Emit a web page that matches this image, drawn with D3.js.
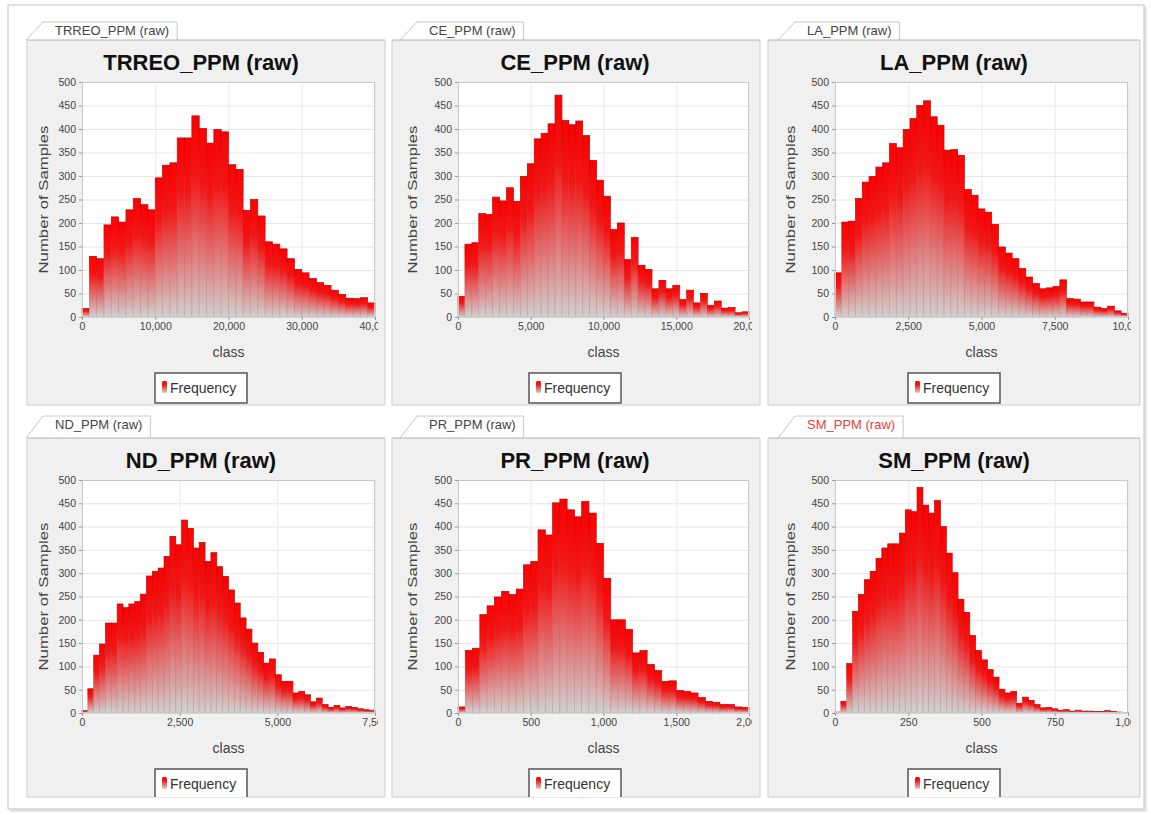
<!DOCTYPE html>
<html><head><meta charset="utf-8">
<script src="https://cdn.jsdelivr.net/npm/d3@7"></script>
<style>body{margin:0;background:#fff}svg{display:block}text{font-family:"Liberation Sans",Arial,sans-serif}</style>
</head><body><svg id="c" width="1151" height="815"></svg>
<script>
// ---------- data ----------
const names = ["TRREO_PPM (raw)", "CE_PPM (raw)", "LA_PPM (raw)", "ND_PPM (raw)", "PR_PPM (raw)", "SM_PPM (raw)"];
const xMax = [40000, 20000, 10000, 7500, 2000, 1000];
const xTicks = [
  [0, 10000, 20000, 30000, 40000],
  [0, 5000, 10000, 15000, 20000],
  [0, 2500, 5000, 7500, 10000],
  [0, 2500, 5000, 7500],
  [0, 500, 1000, 1500, 2000],
  [0, 250, 500, 750, 1000]
];
const yTicks = [0, 50, 100, 150, 200, 250, 300, 350, 400, 450, 500];
const trreo = [18,129,124,196,213,202,228,252,239,228,296,323,328,381,381,428,401,370,399,394,324,314,227,250,215,160,155,145,124,101,94,82,73,67,57,48,40,39,41,30];
const ce = [44,155,158,220,218,255,247,275,246,299,326,379,391,411,472,418,409,417,386,333,291,257,186,200,122,169,110,101,60,78,60,67,37,57,30,50,25,34,19,20,9,11];
const la = [94,202,204,252,287,299,319,328,369,360,399,422,450,460,426,408,355,356,344,271,259,230,223,197,149,136,124,103,85,71,60,62,65,79,39,38,32,32,21,18,23,13,8];
const nd = [5,52,124,148,193,193,234,226,234,239,255,294,304,311,336,379,361,414,396,354,366,325,344,314,293,264,236,204,180,150,130,107,116,82,68,68,43,46,39,24,32,18,12,16,11,14,12,9,7,6];
const pr = [13,134,139,211,230,249,261,254,266,318,325,393,382,451,459,436,421,454,429,364,289,200,200,179,129,134,104,91,68,69,48,46,43,33,25,23,18,18,13,12];
const sm = [2,25,106,218,254,286,304,332,354,363,363,386,436,432,484,446,429,456,400,343,301,244,216,166,134,114,93,77,51,43,46,21,34,27,18,11,12,9,6,7,4,6,4,4,3,3,5,3,2,1];
const series = [trreo, ce, la, nd, pr, sm];
const legendLabel = "Frequency";
const xLabel = "class";
const yLabel = "Number of Samples";

// ---------- layout ----------
const colL = [27, 392, 768], colR = [385, 760, 1140];
const plotX = [[82, 375], [458, 749], [835, 1128]];
const rowT = [40, 438], rowB = [405, 797];
const plotY = [[82, 317], [480, 713]];
const tabTop = [22, 416];
const tabX = [26, 400, 778];
const centers = [201, 575, 954];
const ylabX = [43, 412, 790];

const svg = d3.select("#c");
const defs = svg.append("defs");
const g1 = defs.append("linearGradient").attr("id", "barG").attr("x1", 0).attr("y1", 0).attr("x2", 0).attr("y2", 1);
g1.append("stop").attr("offset", 0).attr("stop-color", "#ff0000");
g1.append("stop").attr("offset", 0.3).attr("stop-color", "#f71414");
g1.append("stop").attr("offset", 1).attr("stop-color", "#d2d0d0");
const g2 = defs.append("linearGradient").attr("id", "barS").attr("x1", 0).attr("y1", 0).attr("x2", 0).attr("y2", 1);
g2.append("stop").attr("offset", 0).attr("stop-color", "#b80000");
g2.append("stop").attr("offset", 1).attr("stop-color", "#b8b0b0");

// outer frame
svg.append("rect").attr("x", 10).attr("y", 7).attr("width", 1137).attr("height", 805).attr("fill", "#e4e4e4");
svg.append("rect").attr("x", 8).attr("y", 5).attr("width", 1136).attr("height", 804).attr("fill", "#fff").attr("stroke", "#c4c4c4");

series.forEach((data, k) => {
  const r = Math.floor(k / 3), c = k % 3;
  const L = colL[c], R = colR[c], T = rowT[r], B = rowB[r];
  const [px0, px1] = plotX[c], [py0, py1] = plotY[r];

  // tab
  const tg = svg.append("g");
  const lbl = tg.append("text").attr("x", tabX[c] + 29).attr("y", tabTop[r] + 13)
    .attr("font-size", 13).attr("fill", k === 5 ? "#e8403c" : "#444").text(names[k]);
  const tw = lbl.node().getComputedTextLength();
  tg.insert("path", "text")
    .attr("d", `M${tabX[c]},${T} L${tabX[c] + 17},${tabTop[r]} L${tabX[c] + 37 + tw},${tabTop[r]} L${tabX[c] + 37 + tw},${T}`)
    .attr("fill", "#fff").attr("stroke", "#c8c8c8");
  svg.append("line").attr("x1", L).attr("x2", R).attr("y1", T).attr("y2", T).attr("stroke", "#b8b8b8");

  // panel background
  svg.append("rect").attr("x", L).attr("y", T + 0.5).attr("width", R - L).attr("height", B - T - 0.5)
    .attr("fill", "#f0f0f0").attr("stroke", "#cfcfcf");

  const x = d3.scaleLinear().domain([0, xMax[k]]).range([px0, px1]);
  const y = d3.scaleLinear().domain([0, 500]).range([py1, py0]);

  const clipId = "clip" + k;
  defs.append("clipPath").attr("id", clipId).append("rect")
    .attr("x", L).attr("y", T).attr("width", px1 + 3 - L).attr("height", B - T);
  const g = svg.append("g").attr("clip-path", `url(#${clipId})`);

  // title
  svg.append("text").attr("x", centers[c]).attr("y", py0 - 12).attr("text-anchor", "middle")
    .attr("font-size", 22).attr("font-weight", "bold").attr("fill", "#111").text(names[k]);

  // plot background
  g.append("rect").attr("x", px0).attr("y", py0).attr("width", px1 - px0).attr("height", py1 - py0).attr("fill", "#fff");

  // gridlines
  g.append("g").selectAll("line").data(yTicks).join("line")
    .attr("x1", px0).attr("x2", px1).attr("y1", d => y(d) + 0.5).attr("y2", d => y(d) + 0.5)
    .attr("stroke", "#e6e6e6");
  g.append("g").selectAll("line").data(xTicks[k]).join("line")
    .attr("x1", d => x(d) + 0.5).attr("x2", d => x(d) + 0.5).attr("y1", py0).attr("y2", py1)
    .attr("stroke", "#ebebeb");

  // bars
  const bw = xMax[k] / data.length;
  g.append("g").selectAll("rect").data(data).join("rect")
    .attr("x", (d, i) => x(i * bw))
    .attr("width", (d, i) => x((i + 1) * bw) - x(i * bw))
    .attr("y", d => y(d))
    .attr("height", d => y(0) - y(d))
    .attr("fill", "url(#barG)")
    .attr("stroke", "url(#barS)").attr("stroke-width", 0.7);

  // plot border
  g.append("rect").attr("x", px0 + 0.5).attr("y", py0 + 0.5).attr("width", px1 - px0 - 1).attr("height", py1 - py0 - 1)
    .attr("fill", "none").attr("stroke", "#c8c8c8");

  // axes
  const ya = g.append("g").attr("transform", `translate(${px0},0)`)
    .call(d3.axisLeft(y).tickValues(yTicks).tickSize(3).tickPadding(3));
  ya.select(".domain").remove();
  ya.selectAll("line").attr("stroke", "#999");
  ya.selectAll("text").attr("font-size", 10.5).attr("fill", "#444").attr("font-family", "Liberation Sans, Arial, sans-serif");

  const xa = g.append("g").attr("transform", `translate(0,${py1})`)
    .call(d3.axisBottom(x).tickValues(xTicks[k]).tickFormat(d3.format(",")).tickSize(3).tickPadding(3));
  xa.select(".domain").remove();
  xa.selectAll("line").attr("stroke", "#999");
  xa.selectAll("text").attr("font-size", 10.5).attr("fill", "#444").attr("font-family", "Liberation Sans, Arial, sans-serif");

  // axis labels
  svg.append("text").attr("x", (px0 + px1) / 2).attr("y", py1 + 40).attr("text-anchor", "middle")
    .attr("font-size", 14).attr("fill", "#444").text(xLabel);
  svg.append("text").attr("transform", `translate(${ylabX[c]},${(py0 + py1) / 2}) rotate(-90)`)
    .attr("text-anchor", "middle").attr("dy", "0.35em").attr("font-size", 13)
    .attr("textLength", 148).attr("lengthAdjust", "spacingAndGlyphs")
    .attr("fill", "#444").text(yLabel);

  // legend
  const lgClip = "lg" + k;
  defs.append("clipPath").attr("id", lgClip).append("rect").attr("x", L).attr("y", T).attr("width", R - L).attr("height", B - T);
  const lg = svg.append("g").attr("clip-path", `url(#${lgClip})`);
  const ly = py1 + 56;
  lg.append("rect").attr("x", centers[c] - 46).attr("y", ly).attr("width", 92).attr("height", 30)
    .attr("fill", "#fff").attr("stroke", "#555").attr("stroke-width", 1.5);
  lg.append("rect").attr("x", centers[c] - 39).attr("y", ly + 8).attr("width", 5).attr("height", 12).attr("rx", 1.5)
    .attr("fill", "url(#barG)");
  lg.append("text").attr("x", centers[c] - 31).attr("y", ly + 20).attr("font-size", 14).attr("fill", "#333").text(legendLabel);
});
</script></body></html>
